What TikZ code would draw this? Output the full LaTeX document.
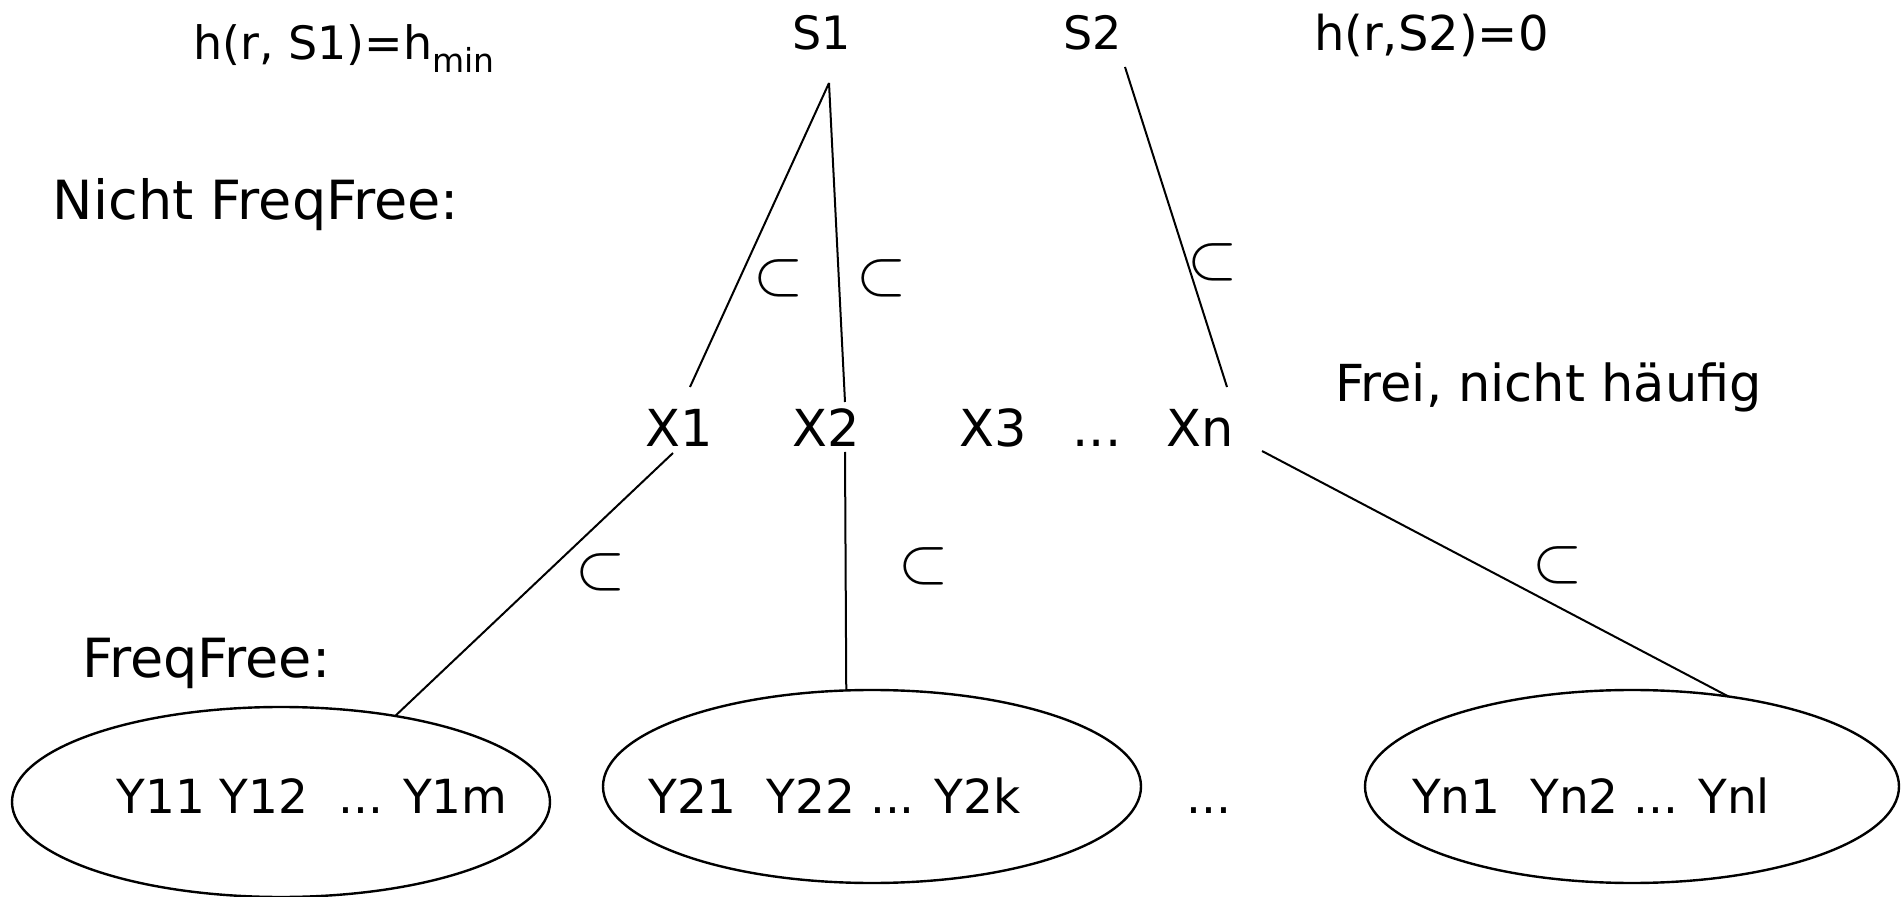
\documentclass[tikz,border=0pt]{standalone}
\usepackage{fontspec}
\setmainfont{DejaVu Sans}
\usetikzlibrary{shapes.geometric,calc}
\newcommand{\subsetmark}{\scalebox{1.3}{$\subset$}}
\begin{document}
\begin{tikzpicture}[x=0.5pt,y=-0.5pt,
  lbl/.style={inner sep=0pt, outer sep=0pt, font=\fontsize{25.5}{30}\selectfont},
  caption/.style={inner sep=0pt, outer sep=0pt, font=\fontsize{27}{32}\selectfont},
  toplbl/.style={inner sep=0pt, outer sep=0pt, font=\fontsize{23}{28}\selectfont},
  setlbl/.style={inner sep=0pt, outer sep=0pt, font=\fontsize{23.5}{28}\selectfont},
  subset/.style={inner sep=0pt, outer sep=0pt, font=\fontsize{24.88}{30}\selectfont},
  edge/.style={line width=1pt},
  group/.style={ellipse, draw, line width=1.2pt, inner sep=0pt, outer sep=0pt},
]
\useasboundingbox (0,0) rectangle (1901,897);

% top row
\node[toplbl, anchor=base west] (hS1) at (193,60)
  {h(r, S1)=h\raisebox{-6.5pt}{\fontsize{16.5}{18}\selectfont min}};
\node[toplbl, anchor=base] (S1) at (822,50) {S1};
\node[toplbl, anchor=base] (S2) at (1093,50) {S2};
\node[toplbl, anchor=base west, font=\fontsize{24}{28}\selectfont] (hS2) at (1314,51) {h(r,S2)=0};

% side captions
\node[caption, anchor=base west] (nff) at (53,220) {Nicht FreqFree:};
\node[lbl, anchor=base west] (frei) at (1335,402) {Frei, nicht häufig};
\node[caption, anchor=base west] (ff) at (82,677) {FreqFree:};

% middle row
\node[lbl, anchor=base] (X1) at (679,447) {X1};
\node[lbl, anchor=base] (X2) at (826,447) {X2};
\node[lbl, anchor=base] (X3) at (993,447) {X3};
\node[lbl, anchor=base] (xdots) at (1097,447) {...};
\node[lbl, anchor=base] (Xn) at (1200,447) {Xn};

% bottom groups
\node[group, minimum width=269pt, minimum height=95pt] (e1) at (281,802) {};
\node[group, minimum width=269pt, minimum height=96.5pt] (e2) at (872,786.5) {};
\node[group, minimum width=267pt, minimum height=96.5pt] (e3) at (1632,786.5) {};
\node[setlbl, anchor=base] (Y1) at (312,813) {Y11 Y12\ \ ... Y1m};
\node[setlbl, anchor=base] (Y2) at (834.5,813) {Y21\ \ Y22 ... Y2k};
\node[setlbl, anchor=base] (ydots) at (1209,813) {...};
\node[setlbl, anchor=base] (Y3) at (1591,813) {Yn1\ \ Yn2 ... Ynl};

% connectors
\draw[edge] ($(S1.base)+(7,33)$) -- ($(X1.base)+(11,-60)$);
\draw[edge] ($(S1.base)+(7,33)$) -- ($(X2.base)+(19,-45)$);
\draw[edge] ($(S2.base)+(32,17)$) -- ($(Xn.base)+(27,-60)$);
\draw[edge] ($(X1.base)+(-6,6)$) -- (e1.37);
\draw[edge] ($(X2.base)+(19,5)$) -- (e2.105.7);
\draw[edge] ($(Xn.base)+(62,4)$) -- (e3.43);

% subset marks
\node[subset] (c1) at (779,278) {\subsetmark};
\node[subset] (c2) at (882,278) {\subsetmark};
\node[subset] (c3) at (1213,262) {\subsetmark};
\node[subset] (c4) at (601,572) {\subsetmark};
\node[subset] (c5) at (924,566) {\subsetmark};
\node[subset] (c6) at (1558,565) {\subsetmark};
\end{tikzpicture}
\end{document}
